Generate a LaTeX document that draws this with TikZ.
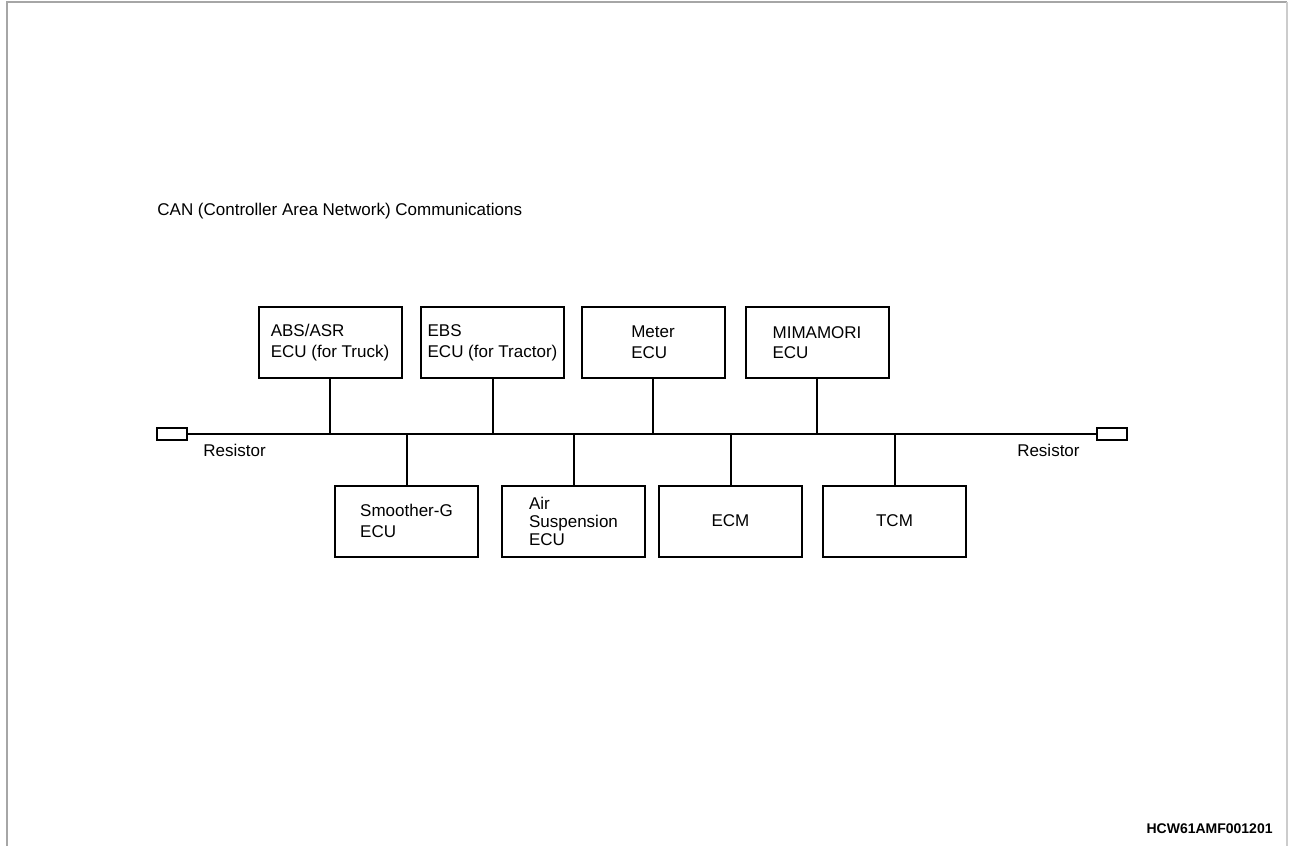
\documentclass[tikz,border=0pt]{standalone}
\usepackage{fontspec}
\setmainfont{Liberation Sans}
\begin{document}
\begin{tikzpicture}[
  x=0.5pt, y=-0.5pt,
  every node/.style={font=\fontsize{8.5}{10.35}\selectfont},
  ecu/.style={draw, line width=1pt, minimum width=71.5pt, minimum height=35.5pt,
    inner sep=0pt, align=left},
  resbox/.style={draw, line width=0.8pt, minimum width=15pt, minimum height=6pt, inner sep=0pt},
  lbl/.style={inner sep=0pt},
  bus/.style={line width=1pt}
]
  \def\ytop{342.5}
  \def\ybot{521}
  \def\ybus{434}
  \useasboundingbox (0,0) rectangle (1289,846);
  % frame
  \draw[gray!70, line width=1pt] (7,846) -- (7,2) -- (1287,2);
  \draw[gray!40, line width=0.6pt] (1287,2) -- (1287,846);
  \node[lbl, anchor=base west] (title) at (157,215) {CAN (Controller Area Network) Communications};
  % terminating resistors
  \node[resbox] (resL) at (172,\ybus) {};
  \node[resbox] (resR) at (1112,\ybus) {};
  \node[lbl, anchor=base west] (resLlbl) at (203,456) {Resistor};
  \node[lbl, anchor=base east] (resRlbl) at (1080,456) {Resistor};
  \draw[bus] (resL.east) -- (resR.west);
  % upper ECUs
  \node[ecu] (abs) at (330,\ytop) {ABS/ASR\\ECU (for Truck)};
  \node[ecu] (ebs) at (492.5,\ytop) {EBS\\ECU (for Tractor)};
  \node[ecu] (meter) at (653,\ytop) {Meter\\ECU};
  \node[ecu] (mima) at (817,\ytop) {MIMAMORI\\ECU};
  % lower ECUs
  \node[ecu] (smoo) at (406.5,\ybot) {Smoother-G\\ECU};
  \node[ecu, font=\fontsize{8.5}{9}\selectfont] (air) at (573.5,\ybot) {Air\\Suspension\\ECU};
  \node[ecu] (ecm) at (730.5,\ybot) {ECM};
  \node[ecu] (tcm) at (894.5,\ybot) {TCM};
  \foreach \n in {abs,ebs,meter,mima}
    \draw[bus] (\n.south) -- (\n.south |- resL.center);
  \foreach \n in {smoo,air,ecm,tcm}
    \draw[bus] (\n.north) -- (\n.north |- resL.center);
  \node[lbl, anchor=base east, font=\fontsize{7}{8}\selectfont\bfseries] (code) at (1273,833) {HCW61AMF001201};
\end{tikzpicture}
\end{document}
